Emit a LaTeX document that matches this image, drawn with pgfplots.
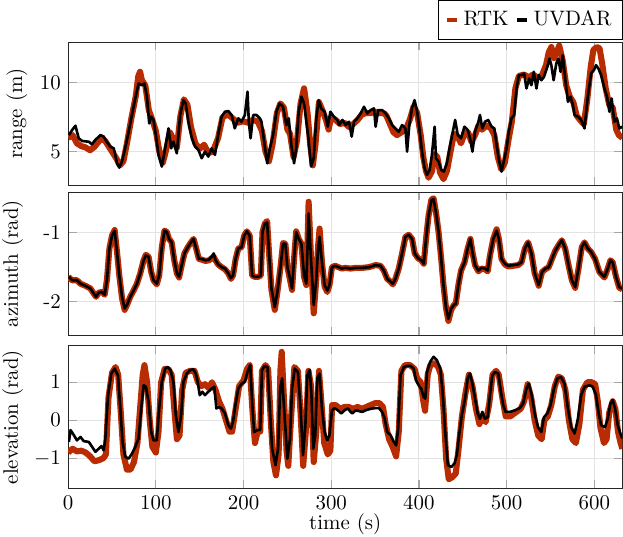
\documentclass[border=0pt]{standalone}
\usepackage{pgfplots}
\pgfplotsset{compat=1.18}
\definecolor{rtk}{RGB}{185,43,0}
\pgfplotsset{
  myax/.style={
    scale only axis, width=265pt, height=68.5pt,
    xmin=0, xmax=632,
    xtick={0,100,...,600},
    grid=major, major grid style={gray!22, line width=0.5pt},
    tick style={gray!70, line width=0.6pt}, major tick length=4pt,
    axis line style={black!85},
    every axis y label/.style={at={(axis description cs:-0.077,0.5)}, rotate=90, anchor=south, inner sep=1pt},
  },
  rtkplot/.style={rtk, line width=2.9pt, line join=round},
  uvplot/.style={black, line width=1.25pt, line join=round},
  legend image code/.code={\draw[#1,line width=2pt] (0pt,0pt) -- (5pt,0pt);},
}
\begin{document}
\begin{tikzpicture}
\begin{axis}[myax, name=a1,
  ymin=2.56, ymax=12.97, ytick={5,10}, xticklabels={},
  ylabel={range (m)},
  every axis y label/.style={at={(axis description cs:-0.069,0.5)}, rotate=90, anchor=south, inner sep=1pt},
  legend columns=2,
  legend style={at={(1,1)}, anchor=south east, yshift=1pt, draw=black, fill=white,
    inner xsep=3pt, inner ysep=3pt, /tikz/every even column/.append style={column sep=1pt}},
]
\addplot[rtkplot] coordinates {
(0,6.0)(5,6.2)(10,5.6)(15,5.4)(20,5.3)(25,5.1)(30,5.35)(37,5.9)(42,5.8)(48,5.2)(55,4.5)(59,4.0)(63,4.3)(67,5.6)(72,7.4)(77,9.0)(80,10.5)(82,10.8)(84,10.2)(88,9.8)(92,8.0)(96,7.3)(100,6.5)(104,5.0)(108,4.2)(112,5.2)(116,6.4)(120,5.9)(124,5.3)(128,7.6)(132,8.8)(136,8.4)(140,6.8)(145,5.6)(150,5.2)(155,5.5)(160,4.9)(165,5.0)(171,6.0)(176,7.5)(182,7.7)(188,7.4)(193,7.1)(200,7.2)(205,7.1)(210,7.3)(216,7.2)(221,6.5)(225,5.0)(229,4.3)(233,5.5)(238,7.8)(242,8.5)(246,8.2)(250,6.6)(253,6.3)(257,4.6)(261,5.8)(265,8.5)(269,9.6)(273,7.8)(276,5.5)(279,4.0)(282,5.5)(286,8.6)(290,8.0)(294,7.3)(297,6.6)(300,7.5)(305,7.3)(310,7.0)(315,7.1)(320,6.8)(325,7.0)(330,7.3)(335,7.7)(340,7.8)(345,7.8)(350,7.9)(355,7.8)(360,7.8)(363,7.6)(367,7.0)(371,6.4)(375,6.2)(380,6.4)(385,6.6)(390,7.4)(394,8.3)(398,7.8)(402,6.2)(405,4.6)(408,3.6)(411,3.1)(415,3.6)(418,4.8)(421,4.6)(424,3.5)(428,3.0)(432,3.6)(436,5.0)(440,6.3)(444,6.1)(448,5.6)(452,6.3)(456,6.4)(460,5.7)(464,6.2)(468,6.9)(472,6.6)(477,6.9)(482,6.7)(486,6.2)(490,4.6)(494,3.7)(498,4.2)(502,5.8)(506,7.2)(510,9.6)(514,10.5)(520,10.6)(525,10.4)(530,10.6)(535,10.4)(540,10.5)(545,11.3)(548,12.2)(551,12.6)(554,11.8)(557,12.2)(560,12.7)(564,11.6)(568,9.8)(572,9.0)(576,8.6)(580,7.6)(585,7.2)(588,7.0)(592,8.8)(596,11.2)(599,12.4)(603,12.6)(606,12.5)(609,11.4)(613,9.6)(617,8.4)(621,8.2)(625,6.6)(628,6.2)(632,6.0)
};
\addlegendentry{RTK}
\addplot[uvplot] coordinates {
(0.8,6.2)(4.5,6.57)(8.3,6.88)(12,5.97)(16,5.77)(23.5,5.72)(27,5.53)(31,5.85)(36.7,6.2)(40.5,6.1)(44,5.7)(48,5.36)(52,5.24)(55.7,4.15)(58.3,3.84)(61.4,4.28)(65,5.24)(69,6.45)(72.7,7.66)(76.5,8.86)(80.3,9.95)(84,9.83)(87,9.95)(89.8,8.99)(92.4,7.05)(94.7,7.54)(97.3,7.3)(100,6.2)(103,4.76)(106.8,3.91)(110.6,5.24)(114.4,6.69)(117.4,5.24)(120,5.72)(123.9,4.88)(127.7,7.66)(131.4,8.74)(134,8.5)(137,7.17)(141,5.97)(144.7,5.36)(148.5,5.12)(152.3,4.52)(156,5.0)(159.8,4.64)(163.6,5.24)(167.4,4.76)(171,6.2)(175,7.54)(178.8,7.9)(182.6,7.95)(186.4,7.66)(190,6.69)(194,7.42)(197.7,7.17)(201.5,7.66)(204.5,9.35)(206,7.17)(208,5.97)(211,7.66)(214.8,7.66)(218.6,7.42)(220.5,7.17)(224,5.48)(227,4.15)(230,5.24)(233.7,6.2)(237.5,7.9)(241,8.5)(245,8.26)(248.9,6.93)(251.5,7.42)(254.5,5.48)(257.6,4.15)(260,5.24)(262.9,7.9)(266,8.99)(269,8.5)(271.6,7.17)(274,5.97)(277,3.93)(280,4.52)(283,7.42)(285.6,8.74)(288.6,8.14)(292.4,7.9)(296,6.81)(299,7.9)(303,7.54)(307,7.3)(309,6.93)(312.7,7.3)(316.5,6.93)(320.3,7.17)(323.3,6.09)(326,7.17)(329.8,7.42)(333.5,7.78)(337.4,8.26)(341,7.78)(345,8.02)(348.8,8.14)(350.6,6.81)(353.6,8.02)(358,8.02)(362,7.78)(365.7,7.42)(369.5,6.93)(373,6.69)(377,6.45)(380.8,6.93)(384.6,6.69)(386.5,5.0)(389,6.93)(392,8.14)(395,8.74)(398,7.9)(400.5,6.69)(403.5,5.0)(406.5,3.79)(409.2,3.31)(412.2,3.67)(414.8,4.76)(417.9,6.81)(419.4,4.52)(422.4,4.28)(425.4,3.67)(428.4,3.55)(431.8,4.15)(435.6,5.48)(439.4,6.69)(441.3,7.3)(444.3,6.2)(448,5.97)(451.9,6.81)(455.6,6.57)(458.3,5.97)(461,5.0)(464,6.45)(467.8,7.17)(469.6,7.66)(472.3,6.69)(475.3,7.17)(479,7.3)(482.9,6.81)(486,6.69)(488.6,5.48)(491.2,4.4)(494.2,3.55)(497.2,4.4)(500,5.24)(502.5,6.45)(505.6,7.42)(508.6,7.66)(511.3,9.59)(514,10.56)(517,10.56)(520,10.68)(522.6,9.59)(525.7,10.31)(528.3,9.83)(531,10.8)(534,9.59)(536.6,10.56)(539.6,10.19)(542.6,10.43)(546.4,11.16)(549,11.76)(551,11.28)(553.6,10.19)(556.6,11.4)(559,11.76)(561.5,10.8)(564,12.0)(566.8,10.31)(569.9,8.62)(572.9,8.99)(575.6,8.38)(577.5,7.66)(581.3,7.54)(585,7.3)(588.8,6.69)(592.6,8.99)(596.4,10.68)(599.5,10.92)(602,11.28)(604.7,11.04)(607.7,10.56)(611.5,9.59)(614.5,8.99)(617.2,7.9)(619.8,8.86)(622.8,7.17)(625.8,7.42)(628.5,6.69)(632,6.81)
};
\addlegendentry{UVDAR}
\end{axis}

\begin{axis}[myax, name=a2, at={(a1.south west)}, anchor=north west, yshift=-3.3pt,
  ymin=-2.49, ymax=-0.41, ytick={-2,-1}, yticklabels={-2,-1}, xticklabels={},
  ylabel={azimuth (rad)},
]
\addplot[rtkplot] coordinates {
(0,-1.64)(4.5,-1.69)(10,-1.69)(14,-1.74)(19.7,-1.77)(25.4,-1.81)(29,-1.88)(31.8,-1.93)(34.8,-1.87)(38.6,-1.86)(41.7,-1.90)(44.3,-1.67)(47,-1.23)(50,-1.04)(53,-0.96)(55.7,-1.28)(58.3,-1.62)(61.4,-1.95)(64.4,-2.12)(67,-2.05)(70.8,-1.93)(74.6,-1.84)(78.4,-1.74)(82.2,-1.59)(86,-1.40)(88.6,-1.32)(91.7,-1.35)(94.7,-1.57)(97.3,-1.69)(101,-1.75)(103.8,-1.62)(106.8,-1.21)(109.8,-0.97)(112.5,-0.99)(115,-1.09)(118,-1.14)(121,-1.40)(124,-1.59)(126.5,-1.65)(129.5,-1.47)(132.6,-1.30)(136.4,-1.21)(140,-1.14)(143,-1.09)(146,-1.23)(149,-1.38)(152,-1.39)(156.8,-1.41)(160.6,-1.40)(163.6,-1.37)(166,-1.35)(168,-1.40)(171,-1.46)(175,-1.50)(178.8,-1.53)(182.6,-1.59)(185.6,-1.67)(188,-1.62)(191,-1.38)(194,-1.23)(197.7,-1.21)(200.8,-1.04)(203.8,-0.98)(207,-1.04)(209.8,-1.62)(212.9,-1.64)(216.7,-1.64)(219.7,-1.62)(221.6,-0.99)(224.2,-0.87)(226.9,-0.83)(229,-1.28)(231.8,-1.83)(235.6,-2.12)(238.6,-1.86)(242.4,-1.47)(245,-1.15)(247.7,-1.16)(250,-1.50)(252.6,-1.66)(255.3,-1.83)(257.6,-1.38)(260,-0.98)(262.9,-1.09)(266,-1.16)(269,-1.64)(271.6,-1.76)(274.2,-0.55)(277.3,-1.47)(280,-2.17)(283,-1.67)(285,-1.20)(286.7,-0.94)(289.4,-1.43)(292.4,-1.78)(295.5,-1.86)(298,-1.76)(300.8,-1.50)(304.5,-1.48)(308.3,-1.50)(312,-1.52)(316,-1.51)(322,-1.52)(327.8,-1.51)(335.4,-1.51)(343,-1.50)(350.5,-1.47)(356.2,-1.48)(360,-1.55)(363.8,-1.67)(367.6,-1.71)(370.2,-1.75)(373.2,-1.67)(377,-1.52)(380.8,-1.30)(384.6,-1.06)(388.4,-1.03)(392.2,-1.09)(395.2,-1.30)(399,-1.37)(402.8,-1.40)(405.5,-1.45)(408.1,-1.09)(411,-0.75)(414.2,-0.52)(416.7,-0.50)(419.4,-0.70)(422.4,-0.99)(425.4,-1.38)(428,-1.76)(431,-2.10)(433.6,-2.28)(436.8,-2.12)(439.8,-2.05)(442,-2.03)(445,-1.76)(448,-1.55)(452,-1.43)(455.6,-1.23)(458.7,-1.09)(461,-1.28)(464,-1.47)(467.8,-1.56)(471.5,-1.52)(475.3,-1.53)(478.4,-1.56)(481,-1.33)(484.8,-1.09)(488.6,-0.95)(491.2,-1.09)(494.2,-1.38)(498,-1.46)(501.8,-1.49)(507.5,-1.48)(513.2,-1.47)(517,-1.43)(520.8,-1.23)(524.5,-1.14)(528.3,-1.30)(532,-1.59)(536.6,-1.77)(540.4,-1.57)(544.2,-1.53)(548,-1.50)(551.7,-1.38)(555.5,-1.26)(559.3,-1.18)(563,-1.11)(566.8,-1.23)(570.6,-1.47)(574.4,-1.69)(578.2,-1.80)(582,-1.52)(585.7,-1.21)(588.8,-1.14)(592.6,-1.23)(596.4,-1.28)(600.9,-1.38)(605.8,-1.57)(611.5,-1.65)(614.5,-1.55)(618.4,-1.40)(621,-1.43)(624.8,-1.64)(628.5,-1.80)(632,-1.82)
};
\addplot[uvplot] coordinates {
(0.8,-1.64)(4.5,-1.69)(10,-1.69)(14,-1.74)(19.7,-1.77)(25.4,-1.81)(29,-1.88)(31.8,-1.93)(34.8,-1.87)(38.6,-1.86)(41.7,-1.90)(44.3,-1.67)(47,-1.23)(50,-1.04)(53,-0.97)(55.7,-1.28)(58.3,-1.62)(61.4,-1.93)(64.4,-2.10)(67,-2.05)(70.8,-1.93)(74.6,-1.84)(78.4,-1.74)(82.2,-1.59)(86,-1.40)(88.6,-1.33)(91.7,-1.35)(94.7,-1.57)(97.3,-1.69)(101,-1.74)(103.8,-1.62)(106.8,-1.21)(109.8,-0.97)(112.5,-0.99)(115,-1.09)(118,-1.14)(121,-1.40)(124,-1.59)(126.5,-1.64)(129.5,-1.47)(132.6,-1.30)(136.4,-1.21)(140,-1.14)(143,-1.09)(146,-1.23)(149,-1.38)(152,-1.38)(156.8,-1.40)(160.6,-1.39)(163.6,-1.35)(166,-1.30)(168,-1.40)(171,-1.46)(175,-1.50)(178.8,-1.52)(182.6,-1.59)(185.6,-1.66)(188,-1.62)(191,-1.38)(194,-1.23)(197.7,-1.21)(200.8,-1.04)(203.8,-0.98)(207,-1.04)(209.8,-1.62)(212.9,-1.64)(216.7,-1.64)(219.7,-1.62)(221.6,-0.99)(224.2,-0.87)(226.9,-0.85)(229,-1.28)(231.8,-1.81)(235.6,-2.08)(238.6,-1.86)(242.4,-1.47)(245,-1.16)(247.7,-1.16)(250,-1.50)(252.6,-1.64)(255.3,-1.81)(257.6,-1.38)(260,-0.99)(262.9,-1.09)(266,-1.16)(269,-1.62)(271.6,-1.74)(274.2,-0.72)(277.3,-1.47)(280,-2.05)(283,-1.67)(285,-1.23)(286.7,-1.06)(289.4,-1.43)(292.4,-1.76)(295.5,-1.84)(298,-1.76)(300.8,-1.50)(304.5,-1.48)(308.3,-1.50)(312,-1.52)(316,-1.51)(322,-1.52)(327.8,-1.51)(335.4,-1.51)(343,-1.50)(350.5,-1.47)(356.2,-1.48)(360,-1.55)(363.8,-1.67)(367.6,-1.71)(370.2,-1.74)(373.2,-1.67)(377,-1.52)(380.8,-1.30)(384.6,-1.06)(388.4,-1.03)(392.2,-1.09)(395.2,-1.30)(399,-1.37)(402.8,-1.40)(405.5,-1.45)(408.1,-1.09)(411,-0.75)(414.2,-0.53)(416.7,-0.51)(419.4,-0.70)(422.4,-0.99)(425.4,-1.38)(428,-1.76)(431,-2.10)(433.6,-2.25)(436.8,-2.10)(439.8,-2.05)(442,-2.03)(445,-1.76)(448,-1.55)(452,-1.43)(455.6,-1.23)(458.7,-1.09)(461,-1.28)(464,-1.47)(467.8,-1.55)(471.5,-1.51)(475.3,-1.52)(478.4,-1.55)(481,-1.33)(484.8,-1.09)(488.6,-0.97)(491.2,-1.09)(494.2,-1.38)(498,-1.45)(501.8,-1.48)(507.5,-1.47)(513.2,-1.46)(517,-1.43)(520.8,-1.23)(524.5,-1.14)(528.3,-1.30)(532,-1.59)(536.6,-1.76)(540.4,-1.57)(544.2,-1.52)(548,-1.50)(551.7,-1.38)(555.5,-1.26)(559.3,-1.18)(563,-1.11)(566.8,-1.23)(570.6,-1.47)(574.4,-1.69)(578.2,-1.79)(582,-1.52)(585.7,-1.21)(588.8,-1.14)(592.6,-1.23)(596.4,-1.28)(600.9,-1.38)(605.8,-1.57)(611.5,-1.64)(614.5,-1.55)(618.4,-1.40)(621,-1.43)(624.8,-1.64)(628.5,-1.79)(632,-1.81)
};
\end{axis}

\begin{axis}[myax, name=a3, at={(a2.south west)}, anchor=north west, yshift=-4.8pt,
  ymin=-1.80, ymax=1.97, ytick={-1,0,1},
  ylabel={elevation (rad)}, xlabel={time (s)},
  xlabel style={inner sep=1pt, yshift=2.5pt},
]
\addplot[rtkplot] coordinates {
(0,-0.85)(5,-0.75)(10,-0.82)(15,-0.80)(20,-0.85)(25,-0.95)(30,-1.08)(35,-1.05)(40,-1.0)(43,-0.9)(46,0.6)(50,1.25)(54,1.4)(57,1.2)(60,0.2)(63,-0.9)(67,-1.3)(71,-1.3)(75,-1.1)(79,-0.6)(82,0.3)(85,1.2)(87,1.45)(90,1.0)(93,0.0)(96,-0.7)(100,-0.85)(103,-0.3)(106,1.0)(110,1.35)(114,1.35)(118,1.2)(121,0.3)(124,-0.5)(127,-0.4)(130,0.8)(134,1.25)(139,1.3)(144,1.3)(148,1.0)(152,0.9)(156,0.95)(160,0.85)(164,1.0)(168,0.8)(172,0.5)(176,0.3)(180,0.0)(184,-0.3)(187,-0.3)(191,0.3)(195,0.9)(200,1.05)(204,1.35)(207,1.45)(210,0.3)(213,-0.6)(216,-0.3)(219,-0.3)(221,1.3)(225,1.45)(228,1.35)(231,0.0)(234,-1.1)(237,-1.45)(240,-0.9)(242,1.3)(243.5,1.8)(246,0.6)(249,-0.8)(251,-1.2)(254,0.0)(258,1.4)(262,1.3)(265,0.2)(268,-1.2)(271,-0.3)(274,1.3)(277,0.9)(280,-1.1)(283,-0.3)(286,1.3)(289,0.4)(292,-0.6)(296,-0.9)(299,-0.8)(301,0.4)(305,0.4)(310,0.3)(315,0.35)(320,0.35)(325,0.3)(330,0.35)(335,0.3)(340,0.35)(345,0.4)(350,0.45)(355,0.45)(359,0.35)(362,-0.1)(366,-0.5)(370,-0.7)(374,-0.95)(377,-0.3)(380,1.3)(384,1.45)(390,1.45)(395,1.35)(398,1.1)(402,1.0)(405,0.5)(407,0.25)(410,1.2)(413,1.45)(418,1.5)(422,1.4)(425,1.2)(428,0.3)(431,-1.0)(434,-1.55)(438,-1.5)(442,-1.4)(445,-0.8)(449,0.1)(453,0.7)(457,1.2)(461,0.9)(465,0.3)(469,-0.1)(472,0.1)(476,-0.05)(480,0.4)(484,1.2)(488,1.3)(491,1.2)(495,0.6)(499,0.1)(504,0.1)(510,0.2)(516,0.3)(520,0.5)(524,0.95)(528,0.6)(532,0.0)(536,-0.4)(540,-0.5)(543,0.0)(547,0.1)(551,0.4)(555,0.9)(559,1.15)(563,1.1)(567,0.8)(571,0.0)(575,-0.5)(579,-0.6)(583,-0.1)(587,0.8)(592,1.0)(597,1.0)(601,0.95)(604,0.5)(607,-0.2)(611,-0.6)(614,-0.5)(617,0.2)(621,0.5)(624,0.3)(627,-0.3)(630,-0.6)(632,-0.75)
};
\addplot[uvplot] coordinates {
(0.8,-0.57)(2.7,-0.26)(6.4,-0.39)(10,-0.53)(14,-0.44)(17.8,-0.55)(23.5,-0.57)(27.3,-0.70)(31,-0.83)(34.8,-0.75)(37.9,-0.68)(40.5,-0.79)(42.4,-0.48)(45.5,0.66)(49.2,1.23)(53,1.36)(56.8,1.18)(59.5,0.31)(62,-0.57)(65,-0.96)(69,-1.01)(72.7,-0.88)(76.5,-0.70)(80.3,-0.48)(83.3,0.31)(86,0.92)(88.6,0.88)(91.7,0.48)(94.7,-0.31)(97.3,-0.53)(101,-0.53)(103.8,0.31)(106.8,1.01)(110.6,1.36)(113.6,1.40)(116.7,1.32)(120,1.01)(122.7,0.13)(125.8,-0.31)(128.8,0.13)(131.4,1.01)(135.2,1.23)(139,1.32)(142.8,1.34)(145.5,1.23)(147.7,1.01)(150,0.66)(153,0.75)(156,0.66)(159.8,0.75)(163.6,0.83)(166.7,0.88)(169,0.31)(172,0.35)(175,0.31)(178.8,0.18)(182.6,-0.13)(185.6,-0.22)(188,-0.04)(191,0.44)(194,0.83)(197.7,0.96)(201.5,1.01)(204.5,1.27)(207.6,1.45)(209.8,0.48)(212,-0.31)(216,-0.26)(219,-0.26)(221,1.32)(224.2,1.43)(227.3,1.40)(230,0.31)(232.6,-0.75)(236.4,-1.18)(239.4,-0.75)(241.7,0.83)(244,1.10)(247,0.04)(250,-1.01)(253,-0.48)(255.3,0.83)(258.3,1.36)(262,1.27)(265,0.31)(267.8,-0.92)(270.5,-0.13)(272.7,1.18)(275.4,1.32)(277.3,0.75)(279.5,-0.75)(281.8,-0.39)(284,1.10)(286.7,1.23)(289.4,0.31)(292.4,-0.31)(295.5,-0.53)(298,-0.39)(300.8,0.26)(303.8,0.32)(307.6,0.26)(311.4,0.18)(315,0.26)(319,0.31)(322,0.22)(324,0.18)(327.8,0.26)(331.6,0.24)(335.4,0.22)(339,0.26)(343,0.29)(346.8,0.31)(350.6,0.32)(354.3,0.32)(358,0.22)(361,0.04)(363.8,-0.31)(367.6,-0.39)(371.4,-0.57)(374,-0.66)(376.3,-0.22)(379,1.18)(382.8,1.40)(386.6,1.43)(390.4,1.43)(394,1.36)(396.7,1.05)(399.7,0.92)(402.7,0.83)(405.4,0.61)(407.3,0.57)(409.2,1.27)(412.9,1.54)(416.7,1.67)(420.5,1.58)(424.3,1.36)(427,0.75)(430,-0.31)(433,-1.18)(436.8,-1.23)(440.5,-1.14)(443.2,-0.92)(445.8,-0.39)(448.9,0.13)(452.6,0.57)(455.6,1.10)(458.3,1.23)(461,0.96)(464,0.57)(467,0.18)(469.6,0.04)(472.3,0.22)(475.3,0.04)(478.4,0.08)(481,0.66)(483.7,1.18)(486.7,1.27)(490.5,1.23)(493.5,0.75)(496.2,0.39)(498.8,0.22)(503.7,0.22)(509.4,0.26)(515,0.32)(518.8,0.44)(522.6,0.83)(525.3,0.96)(528.3,0.70)(532,0.18)(535.8,-0.18)(539.6,-0.31)(542.6,0.08)(546.4,0.18)(550,0.39)(554,0.83)(557.8,1.10)(562,1.14)(566,0.96)(569.9,0.31)(573.6,-0.18)(577.5,-0.35)(581.3,0.04)(585,0.66)(588.8,0.88)(594.4,0.92)(598.2,0.88)(602,0.66)(604.7,0.22)(607.7,-0.13)(612.2,-0.18)(615.3,0.04)(618.4,0.44)(621,0.53)(623.7,0.31)(626.7,-0.13)(629.7,-0.35)(632,-0.48)
};
\end{axis}
\end{tikzpicture}
\end{document}
